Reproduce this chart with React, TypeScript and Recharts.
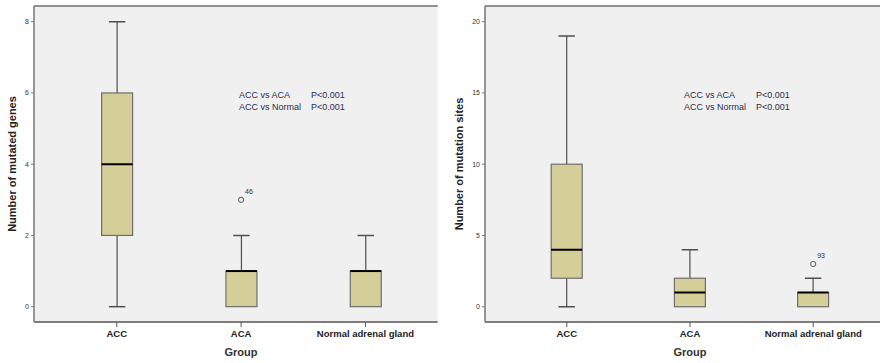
import React from "react";
import {
  ComposedChart,
  Bar,
  Scatter,
  XAxis,
  YAxis,
  CartesianGrid,
  ReferenceLine,
} from "recharts";

// ---- Data ----
const groups = ["ACC", "ACA", "Normal adrenal gland"];

// Left panel: number of mutated genes
const genesMin = [0, 0, 0];
const genesQ1 = [2, 0, 0];
const genesMed = [4, 1, 1];
const genesQ3 = [6, 1, 1];
const genesMax = [8, 2, 2];
const genesOutlier = [null, 3, null];
const genesOutlierLabel = ["", "46", ""];
const genesTicks = [0, 2, 4, 6, 8];

// Right panel: number of mutation sites
const sitesMin = [0, 0, 0];
const sitesQ1 = [2, 0, 0];
const sitesMed = [4, 1, 1];
const sitesQ3 = [10, 2, 1];
const sitesMax = [19, 4, 2];
const sitesOutlier = [null, null, 3];
const sitesOutlierLabel = ["", "", "93"];
const sitesTicks = [0, 5, 10, 15, 20];

const annotationLines = [
  ["ACC vs ACA", "P<0.001"],
  ["ACC vs Normal", "P<0.001"],
];

const build = (
  mn: number[],
  q1: number[],
  md: number[],
  q3: number[],
  mx: number[],
  out: (number | null)[],
  outLabel: string[]
) =>
  groups.map((g, i) => ({
    group: g,
    min: mn[i],
    q1: q1[i],
    med: md[i],
    q3: q3[i],
    max: mx[i],
    outlier: out[i],
    outlierLabel: outLabel[i],
  }));

const genesData = build(genesMin, genesQ1, genesMed, genesQ3, genesMax, genesOutlier, genesOutlierLabel);
const sitesData = build(sitesMin, sitesQ1, sitesMed, sitesQ3, sitesMax, sitesOutlier, sitesOutlierLabel);

const FONT = "'Liberation Sans', Arial, sans-serif";
const BOX_FILL = "#d4cf98";
const LINE = "#4f4f4f";

function BoxShape(props: any) {
  const { x, y, width, height, payload } = props;
  if (!payload || width == null) return null;
  const top = Math.min(y, y + height);
  const h = Math.abs(height);
  const { min, q1, med, q3, max } = payload;
  const ppu = h / (max - min);
  const py = (v: number) => top + (max - v) * ppu;
  const cx = x + width / 2;
  const capW = width * 0.53;
  return (
    <g>
      <line x1={cx} x2={cx} y1={py(max)} y2={py(q3)} stroke={LINE} strokeWidth={1.2} />
      <line x1={cx} x2={cx} y1={py(q1)} y2={py(min)} stroke={LINE} strokeWidth={1.2} />
      {max > q3 && (
        <line x1={cx - capW / 2} x2={cx + capW / 2} y1={py(max)} y2={py(max)} stroke={LINE} strokeWidth={1.5} />
      )}
      {min < q1 && (
        <line x1={cx - capW / 2} x2={cx + capW / 2} y1={py(min)} y2={py(min)} stroke={LINE} strokeWidth={1.5} />
      )}
      <rect x={x} y={py(q3)} width={width} height={py(q1) - py(q3)} fill={BOX_FILL} stroke="#6e6e6e" strokeWidth={1.2} />
      <line x1={x} x2={x + width} y1={py(med)} y2={py(med)} stroke="#000" strokeWidth={2} />
    </g>
  );
}

function OutlierShape(props: any) {
  const { cx, cy, payload } = props;
  if (!payload || payload.outlier == null || !Number.isFinite(cx) || !Number.isFinite(cy)) return <g />;
  return (
    <g>
      <circle cx={cx} cy={cy} r={2.6} fill="none" stroke="#555" strokeWidth={1} />
      <text x={cx + 4} y={cy - 5.5} fontSize={7} fontFamily={FONT} fill="#333" stroke="none">
        {payload.outlierLabel}
      </text>
    </g>
  );
}

type PanelProps = {
  data: any[];
  ticks: number[];
  domain: [number, number];
  yLabel: string;
  yAxisWidth: number;
  padding: { left: number; right: number };
  marginRight: number;
  yLabelX: number;
  annotX: [number, number];
  groupX: number;
};

function Panel(p: PanelProps) {
  return (
    <div style={{ position: "relative", width: 440, height: 363 }}>
      <ComposedChart
        width={440}
        height={363}
        data={p.data}
        margin={{ top: 6, right: p.marginRight, left: 8, bottom: 0 }}
      >
        <CartesianGrid fill="#f0f0f0" stroke="none" horizontal={false} vertical={false} />
        <ReferenceLine y={p.domain[1]} stroke="#8f8f8f" strokeWidth={2} ifOverflow="extendDomain" />
        <XAxis
          dataKey="group"
          type="category"
          padding={p.padding}
          height={41}
          tickSize={5}
          tickMargin={3}
          axisLine={{ stroke: "#555", strokeWidth: 1.5 }}
          tickLine={{ stroke: "#555" }}
          tick={{ fontSize: 9.5, fontWeight: 700, fill: "#222", fontFamily: FONT }}
          interval={0}
        />
        <YAxis
          type="number"
          domain={p.domain}
          ticks={p.ticks}
          allowDataOverflow
          width={p.yAxisWidth}
          tickSize={3}
          tickMargin={2}
          axisLine={{ stroke: "#777", strokeWidth: 1.5 }}
          tickLine={{ stroke: "#777" }}
          tick={{ fontSize: 7, fill: "#333", fontFamily: FONT }}
        />
        <Bar
          dataKey={(d: any) => [d.min, d.max]}
          barSize={31}
          shape={<BoxShape />}
          isAnimationActive={false}
        />
        <Scatter dataKey="outlier" shape={<OutlierShape />} isAnimationActive={false} />
      </ComposedChart>
      <svg
        width={440}
        height={363}
        style={{ position: "absolute", left: 0, top: 0, pointerEvents: "none" }}
      >
        <text
          x={p.yLabelX}
          y={164}
          transform={`rotate(-90 ${p.yLabelX} 164)`}
          textAnchor="middle"
          dominantBaseline="central"
          fontSize={11}
          fontWeight={700}
          fontFamily={FONT}
          fill="#222"
        >
          {p.yLabel}
        </text>
        <text
          x={p.groupX}
          y={352}
          textAnchor="middle"
          dominantBaseline="central"
          fontSize={11}
          fontWeight={700}
          fontFamily={FONT}
          fill="#333"
        >
          Group
        </text>
        {annotationLines.map((ln, i) => (
          <g key={i}>
            <text x={p.annotX[0]} y={97.5 + i * 12} fontSize={9} fontFamily={FONT} fill="#2c2c4e">
              {ln[0]}
            </text>
            <text x={p.annotX[1]} y={97.5 + i * 12} fontSize={9} fontFamily={FONT} fill="#2c2c4e">
              {ln[1]}
            </text>
          </g>
        ))}
      </svg>
    </div>
  );
}

export default function App() {
  return (
    <div
      style={{
        position: "absolute",
        left: 0,
        top: 0,
        width: 880,
        height: 363,
        background: "#fff",
        display: "flex",
      }}
    >
      <Panel
        data={genesData}
        ticks={genesTicks}
        domain={[-0.43, 8.44]}
        yLabel="Number of mutated genes"
        yAxisWidth={26}
        padding={{ left: 20.6, right: 10.1 }}
        marginRight={2.3}
        yLabelX={12}
        annotX={[239, 311]}
        groupX={241}
      />
      <Panel
        data={sitesData}
        ticks={sitesTicks}
        domain={[-1.07, 21.1]}
        yLabel="Number of mutation sites"
        yAxisWidth={37}
        padding={{ left: 20.2, right: 5.2 }}
        marginRight={0}
        yLabelX={19}
        annotX={[244, 316]}
        groupX={250}
      />
    </div>
  );
}
